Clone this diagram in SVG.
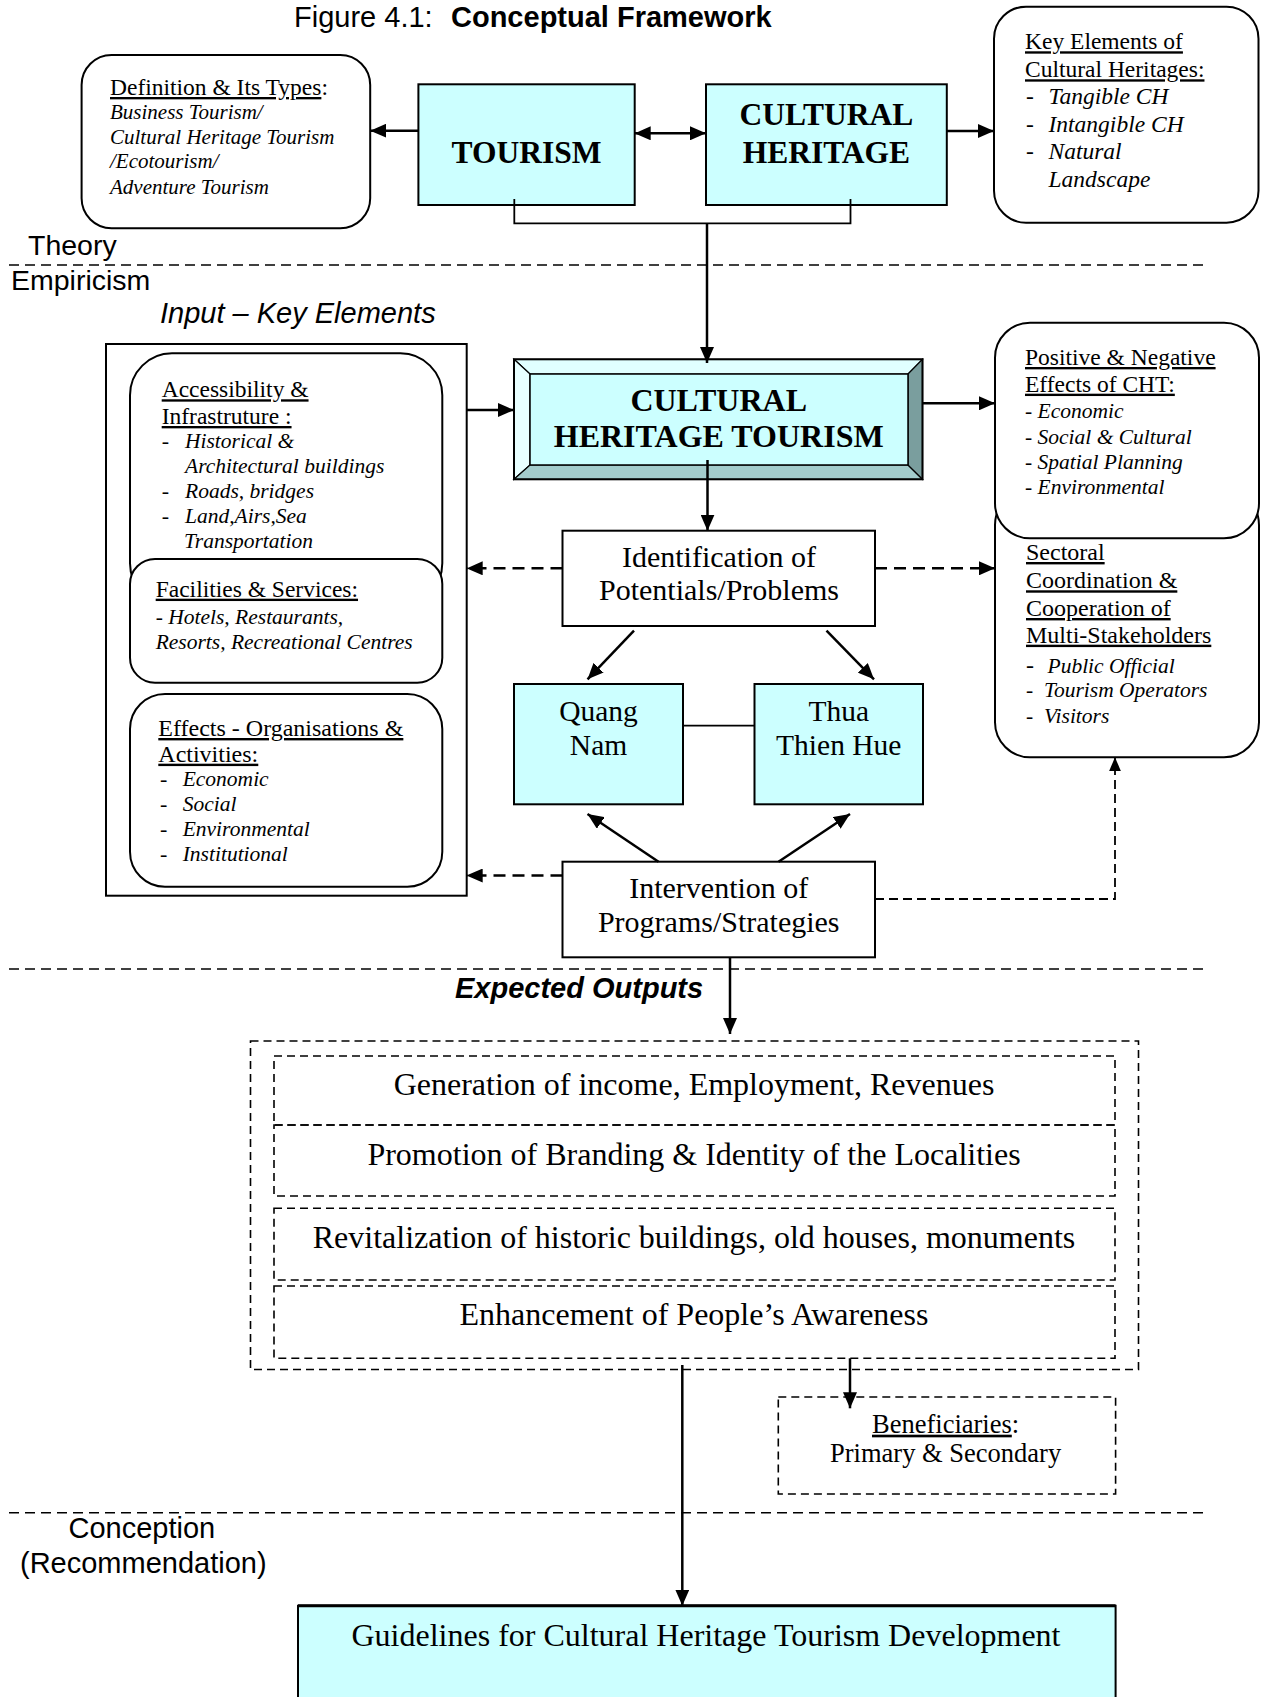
<svg xmlns="http://www.w3.org/2000/svg" width="1263" height="1697" viewBox="0 0 1263 1697">
<style>
.t{font-family:"Liberation Serif","Times New Roman",serif;fill:#000}
.s{font-family:"Liberation Sans",Arial,sans-serif;fill:#000}
.i{font-style:italic}
.b{font-weight:bold}
.u{text-decoration:underline}
.m{text-anchor:middle}
.box{fill:#fff;stroke:#000;stroke-width:2}
.cy{fill:#CCFFFF;stroke:#000;stroke-width:2}
.dbox{fill:none;stroke:#000;stroke-width:1.6;stroke-dasharray:8 5}
.c{fill:none;stroke:#000;stroke-width:2.5}
.c2{fill:none;stroke:#000;stroke-width:1.8}
.d{stroke-dasharray:12 7}
.d2{stroke-dasharray:9 5}
.sep{fill:none;stroke:#000;stroke-width:1.6;stroke-dasharray:10 6}
</style>
<defs>
<marker id="ah" markerUnits="userSpaceOnUse" viewBox="0 0 16 14" refX="16" refY="7" markerWidth="16" markerHeight="14" orient="auto-start-reverse">
<path d="M0,0 L16,7 L0,14 z" fill="#000"/>
</marker>
<marker id="ahs" markerUnits="userSpaceOnUse" viewBox="0 0 14 12" refX="14" refY="6" markerWidth="14" markerHeight="12" orient="auto">
<path d="M0,0 L14,6 L0,12 z" fill="#000"/>
</marker>
</defs>

<g id="title">
<text class="s" x="294" y="27" font-size="29">Figure 4.1:<tspan x="451" class="b">Conceptual Framework</tspan></text>
</g>

<g id="section-labels">
<text class="s" x="28" y="255" font-size="28.5">Theory</text>
<text class="s" x="11" y="290" font-size="28.5">Empiricism</text>
<text class="s i" x="160" y="323.3" font-size="29">Input – Key Elements</text>
<text class="s i b" x="455" y="998.3" font-size="29">Expected Outputs</text>
<text class="s" x="68.5" y="1538.3" font-size="29">Conception</text>
<text class="s" x="20" y="1572.7" font-size="29">(Recommendation)</text>
</g>

<g id="separators">
<line class="sep" x1="9" y1="265" x2="1208" y2="265"/>
<line class="sep" x1="9" y1="969" x2="1208" y2="969"/>
<line class="sep" x1="9" y1="1512.7" x2="1208" y2="1512.7"/>
</g>

<g id="definition">
<rect class="box" x="81.6" y="55" width="288.6" height="173.3" rx="30"/>
<text class="t" x="110" y="95" font-size="23.5"><tspan class="u">Definition &amp; Its Types</tspan>:</text>
<text class="t i" x="110" y="119.3" font-size="21">Business Tourism/</text>
<text class="t i" x="110" y="144.3" font-size="21">Cultural Heritage Tourism</text>
<text class="t i" x="110" y="168.3" font-size="21">/Ecotourism/</text>
<text class="t i" x="110" y="194" font-size="21">Adventure Tourism</text>
</g>

<g id="tourism">
<rect class="cy" x="418.4" y="84.3" width="216.3" height="120.7"/>
<text class="t b m" x="526.5" y="162.7" font-size="31.5">TOURISM</text>
</g>

<g id="cultural-heritage">
<rect class="cy" x="706" y="84.3" width="240.8" height="120.7"/>
<text class="t b m" x="826.4" y="125" font-size="31.5">CULTURAL</text>
<text class="t b m" x="826.4" y="162.7" font-size="31.5">HERITAGE</text>
</g>

<g id="key-elements">
<rect class="box" x="994" y="6.7" width="264.5" height="216" rx="32"/>
<text class="t u" x="1025" y="49.3" font-size="23.5">Key Elements of</text>
<text class="t u" x="1025" y="77.3" font-size="23.5">Cultural Heritages:</text>
<text class="t" x="1026" y="104" font-size="23.5">-</text>
<text class="t i" x="1048.5" y="104" font-size="23.5">Tangible CH</text>
<text class="t" x="1026" y="131.7" font-size="23.5">-</text>
<text class="t i" x="1048.5" y="131.7" font-size="23.5">Intangible CH</text>
<text class="t" x="1026" y="159.3" font-size="23.5">-</text>
<text class="t i" x="1048.5" y="159.3" font-size="23.5">Natural</text>
<text class="t i" x="1048.5" y="186.7" font-size="23.5">Landscape</text>
</g>

<g id="input-key-elements">
<rect x="106" y="344" width="360.7" height="551.7" fill="#fff" stroke="#000" stroke-width="2"/>
<g id="accessibility">
<rect class="box" x="130" y="353.3" width="312.3" height="252" rx="42"/>
<text class="t u" x="161.7" y="397.3" font-size="23.5">Accessibility &amp;</text>
<text class="t u" x="161.7" y="424" font-size="23.5">Infrastruture :</text>
<text class="t" x="161.7" y="448.3" font-size="22">-</text>
<text class="t i" x="185" y="448.3" font-size="21.5">Historical &amp;</text>
<text class="t i" x="185" y="473.3" font-size="21.5">Architectural buildings</text>
<text class="t" x="161.7" y="497.7" font-size="22">-</text>
<text class="t i" x="185" y="497.7" font-size="21.5">Roads, bridges</text>
<text class="t" x="161.7" y="522.7" font-size="22">-</text>
<text class="t i" x="185" y="522.7" font-size="21.5">Land,Airs,Sea</text>
<text class="t i" x="184" y="548.3" font-size="21.5">Transportation</text>
</g>
<g id="facilities">
<rect class="box" x="130" y="559" width="312.3" height="123.7" rx="25"/>
<text class="t u" x="155.7" y="596.7" font-size="23.5">Facilities &amp; Services:</text>
<text class="t i" x="155.7" y="624" font-size="21.5">- Hotels, Restaurants,</text>
<text class="t i" x="155.7" y="649.3" font-size="21.5">Resorts, Recreational Centres</text>
</g>
<g id="effects">
<rect class="box" x="130" y="694" width="312.3" height="192.7" rx="35"/>
<text class="t u" x="158.3" y="736" font-size="24">Effects - Organisations &amp;</text>
<text class="t u" x="158.3" y="761.7" font-size="24">Activities:</text>
<text class="t" x="160" y="786" font-size="22">-</text>
<text class="t i" x="182.7" y="786" font-size="21.5">Economic</text>
<text class="t" x="160" y="811" font-size="22">-</text>
<text class="t i" x="182.7" y="811" font-size="21.5">Social</text>
<text class="t" x="160" y="836" font-size="22">-</text>
<text class="t i" x="182.7" y="836" font-size="21.5">Environmental</text>
<text class="t" x="160" y="861" font-size="22">-</text>
<text class="t i" x="182.7" y="861" font-size="21.5">Institutional</text>
</g>
</g>

<g id="cultural-heritage-tourism">
<polygon points="514,359.3 922.5,359.3 908,374 530,374" fill="#E0FFFF" stroke="#000" stroke-width="1.2"/>
<polygon points="514,359.3 530,374 530,465 514,479.3" fill="#E8FFFF" stroke="#000" stroke-width="1.2"/>
<polygon points="514,479.3 530,465 908,465 922.5,479.3" fill="#A3CCCC" stroke="#000" stroke-width="1.2"/>
<polygon points="922.5,359.3 922.5,479.3 908,465 908,374" fill="#7A9E9E" stroke="#000" stroke-width="1.2"/>
<rect x="530" y="374" width="378" height="91" fill="#CCFFFF" stroke="#000" stroke-width="1.5"/>
<rect x="514" y="359.3" width="408.5" height="120" fill="none" stroke="#000" stroke-width="2"/>
<text class="t b m" x="718.7" y="410.7" font-size="32">CULTURAL</text>
<text class="t b m" x="718.7" y="446.7" font-size="32">HERITAGE TOURISM</text>
</g>

<g id="sectoral">
<rect class="box" x="995" y="490" width="264" height="267.3" rx="35"/>
<text class="t u" x="1026" y="560" font-size="24">Sectoral</text>
<text class="t u" x="1026" y="588.3" font-size="24">Coordination &amp;</text>
<text class="t u" x="1026" y="616" font-size="24">Cooperation of</text>
<text class="t u" x="1026" y="642.7" font-size="24">Multi-Stakeholders</text>
<text class="t" x="1026" y="672.7" font-size="24">-</text>
<text class="t i" x="1047.5" y="672.7" font-size="21.5">Public Official</text>
<text class="t" x="1026" y="696.7" font-size="21.5">-</text>
<text class="t i" x="1044" y="696.7" font-size="21.5">Tourism Operators</text>
<text class="t" x="1026" y="723.3" font-size="21.5">-</text>
<text class="t i" x="1044" y="723.3" font-size="21.5">Visitors</text>
</g>

<g id="positive-negative">
<rect class="box" x="995" y="322.7" width="264" height="215.6" rx="35"/>
<text class="t u" x="1025" y="365" font-size="23.5">Positive &amp; Negative</text>
<text class="t u" x="1025" y="391.7" font-size="23.5">Effects of CHT:</text>
<text class="t i" x="1025" y="418.3" font-size="21.5">- Economic</text>
<text class="t i" x="1025" y="444" font-size="21.5">- Social &amp; Cultural</text>
<text class="t i" x="1025" y="469" font-size="21.5">- Spatial Planning</text>
<text class="t i" x="1025" y="494" font-size="21.5">- Environmental</text>
</g>

<g id="identification">
<rect class="box" x="562.5" y="530.7" width="312.5" height="95.3"/>
<text class="t m" x="719" y="566.7" font-size="30">Identification of</text>
<text class="t m" x="719" y="600" font-size="30">Potentials/Problems</text>
</g>

<g id="quang-nam">
<rect class="cy" x="514" y="684" width="169" height="120.3"/>
<text class="t m" x="598.5" y="720.7" font-size="29.5">Quang</text>
<text class="t m" x="598.5" y="755" font-size="29.5">Nam</text>
</g>

<g id="thua-thien-hue">
<rect class="cy" x="754.5" y="684" width="168.5" height="120.3"/>
<text class="t m" x="838.75" y="720.7" font-size="29.5">Thua</text>
<text class="t m" x="838.75" y="755" font-size="29.5">Thien Hue</text>
</g>

<g id="intervention">
<rect class="box" x="562.5" y="861.7" width="312.5" height="95.6"/>
<text class="t m" x="718.75" y="898.3" font-size="30">Intervention of</text>
<text class="t m" x="718.75" y="931.7" font-size="30">Programs/Strategies</text>
</g>

<g id="expected-outputs">
<rect class="dbox" x="250.5" y="1041" width="888" height="328.5"/>
<rect class="dbox" x="274" y="1056" width="841" height="69"/>
<rect class="dbox" x="274" y="1125" width="841" height="71"/>
<rect class="dbox" x="274" y="1208.3" width="841" height="71.7"/>
<rect class="dbox" x="274" y="1286" width="841" height="72.3"/>
<text class="t m" x="694" y="1095" font-size="32">Generation of income, Employment, Revenues</text>
<text class="t m" x="694" y="1165" font-size="32">Promotion of Branding &amp; Identity of the Localities</text>
<text class="t m" x="694" y="1248.3" font-size="32">Revitalization of historic buildings, old houses, monuments</text>
<text class="t m" x="694" y="1325" font-size="32">Enhancement of People’s Awareness</text>
</g>

<g id="beneficiaries">
<rect class="dbox" x="778.3" y="1397" width="337.3" height="97"/>
<text class="t m" x="945.6" y="1432.7" font-size="26.5"><tspan class="u">Beneficiaries</tspan>:</text>
<text class="t m" x="945.6" y="1461.7" font-size="26.5">Primary &amp; Secondary</text>
</g>

<g id="guidelines">
<path d="M298,1697 V1605.7 H1115.6 V1697" fill="#CCFFFF" stroke="#000" stroke-width="2"/>
<line x1="298" y1="1605.7" x2="1115.6" y2="1605.7" stroke="#000" stroke-width="3"/>
<text class="t m" x="706" y="1646" font-size="32">Guidelines for Cultural Heritage Tourism Development</text>
</g>

<g id="connectors">
<line class="c" x1="418.4" y1="130.7" x2="370.2" y2="130.7" marker-end="url(#ah)"/>
<line class="c" x1="634.7" y1="133.3" x2="706" y2="133.3" marker-start="url(#ah)" marker-end="url(#ah)"/>
<line class="c" x1="946.8" y1="131" x2="994" y2="131" marker-end="url(#ah)"/>
<path class="c2" d="M514.3,199 V223.3 H850.5 V199"/>
<line class="c" x1="707" y1="223.3" x2="707" y2="363" marker-end="url(#ah)"/>
<line class="c" x1="466.7" y1="410" x2="514" y2="410" marker-end="url(#ah)"/>
<line class="c" x1="922.5" y1="403.3" x2="995" y2="403.3" marker-end="url(#ah)"/>
<line class="c" x1="707.5" y1="460" x2="707.5" y2="530.7" marker-end="url(#ah)"/>
<line class="c d" x1="562.5" y1="568.3" x2="466.7" y2="568.3" marker-end="url(#ah)"/>
<line class="c d" x1="875" y1="568.3" x2="995" y2="568.3" marker-end="url(#ah)"/>
<line class="c" x1="634" y1="630.7" x2="587.5" y2="679.3" marker-end="url(#ah)"/>
<line class="c" x1="826.5" y1="630.7" x2="874" y2="679.3" marker-end="url(#ah)"/>
<line class="c2" x1="683" y1="725.7" x2="754.5" y2="725.7"/>
<line class="c" x1="658.5" y1="861.7" x2="587.5" y2="814" marker-end="url(#ah)"/>
<line class="c" x1="778.5" y1="861.7" x2="850" y2="814" marker-end="url(#ah)"/>
<line class="c d" x1="562.5" y1="875.5" x2="466.7" y2="875.5" marker-end="url(#ah)"/>
<path class="c2 d2" d="M875,899 H1115 V757.3" marker-end="url(#ahs)"/>
<line class="c" x1="730" y1="957.3" x2="730" y2="1034" marker-end="url(#ah)"/>
<line class="c" x1="682.3" y1="1365" x2="682.3" y2="1605.7" marker-end="url(#ah)"/>
<line class="c" x1="850" y1="1358.3" x2="850" y2="1408.3" marker-end="url(#ah)"/>
</g>
</svg>
